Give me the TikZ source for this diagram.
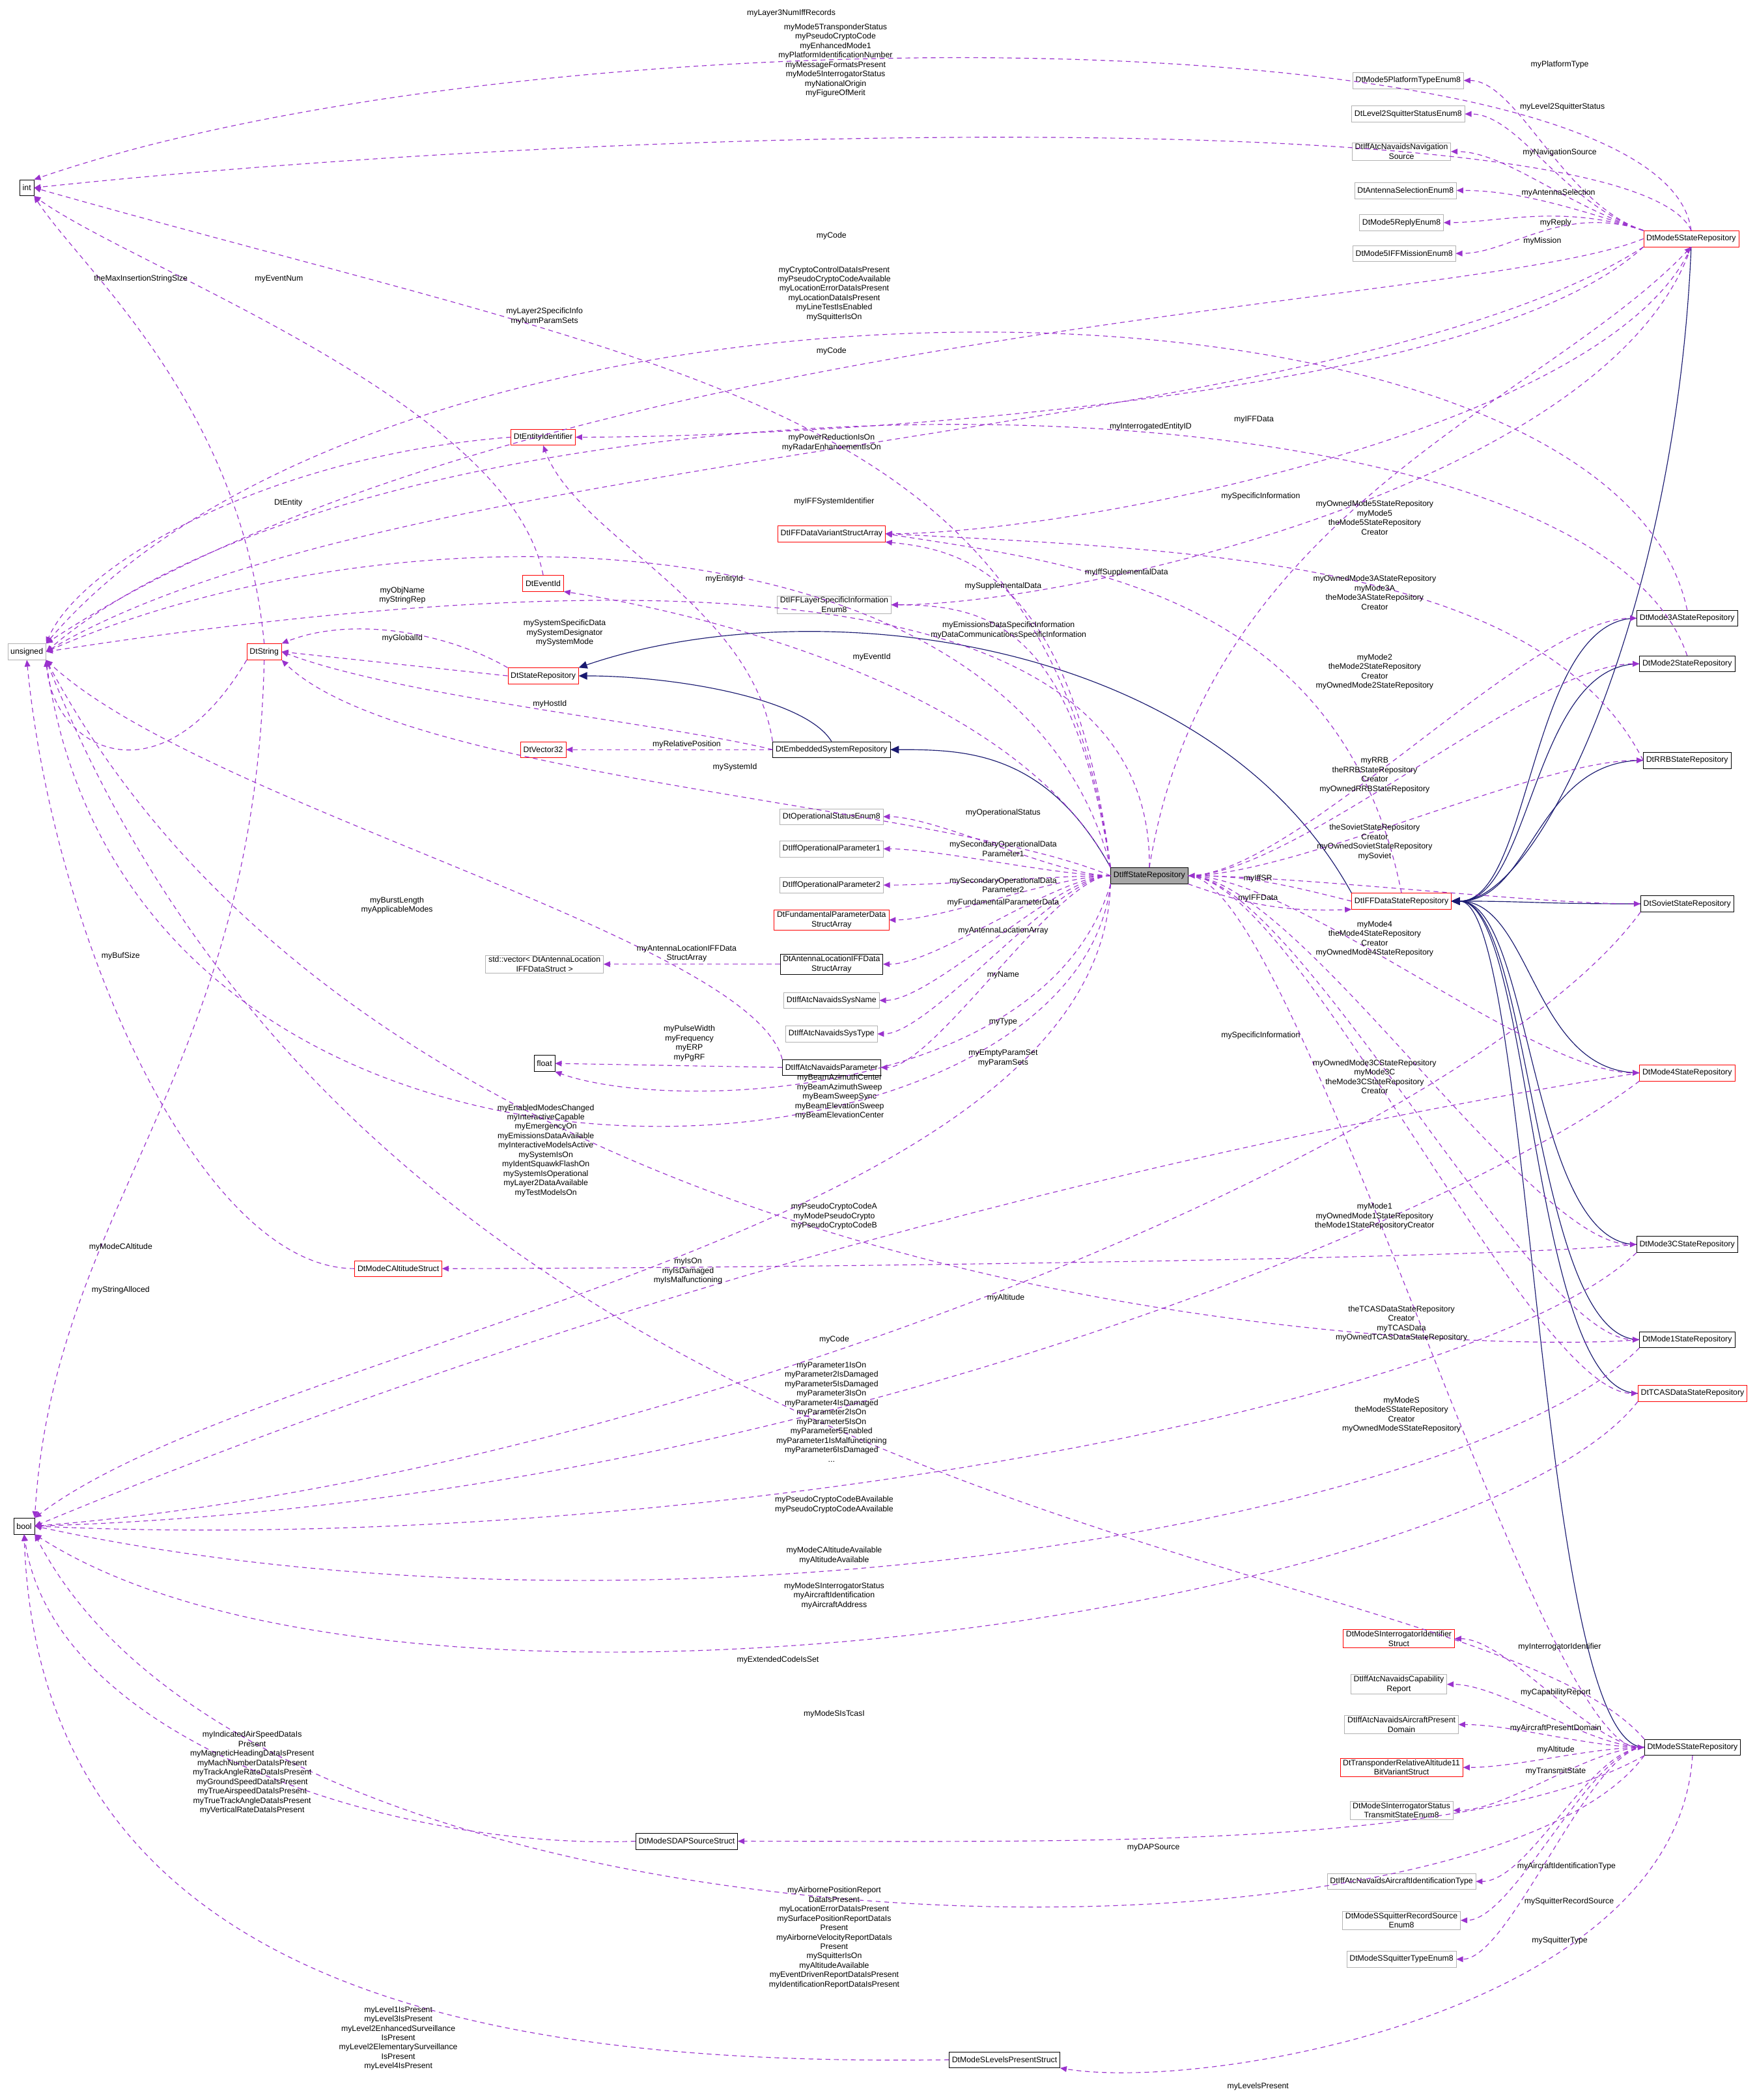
\documentclass[tikz,border=0pt]{standalone}
\usepackage{fontspec}
\setmainfont{Liberation Sans}
\usetikzlibrary{arrows.meta}
\definecolor{usecol}{HTML}{9A32CD}
\definecolor{inhcol}{HTML}{191970}
\tikzset{
  cls/.style={draw=black, rectangle, inner xsep=3pt, inner ysep=1.5pt, minimum height=0.6cm, align=center, font=\fontsize{8.5}{10}\selectfont},
  redcls/.style={cls, draw=red},
  graycls/.style={cls, draw=black!30},
  selcls/.style={cls, fill=black!35},
  lbl/.style={align=center, inner sep=0pt, font=\fontsize{8.5}{10}\selectfont},
  use/.style={draw=usecol, dashed, dash pattern=on 5pt off 4pt, thick, -{Triangle[length=7pt,width=6pt]}},
  inh/.style={draw=inhcol, thick, -{Triangle[length=9pt,width=8pt]}}
}
\begin{document}
\begin{tikzpicture}[x=0.05cm, y=-0.05cm]
\useasboundingbox (0,0) rectangle (1310,1566);
% left column
\node[cls] (int) at (20,140) {int};
\node[graycls] (unsigned) at (20,486) {unsigned};
\node[cls] (bool) at (18,1138) {bool};
% main class
\node[selcls] (isr) at (857,653) {DtIffStateRepository};
% mode 5 neighbourhood
\node[redcls] (m5) at (1261,178) {DtMode5StateRepository};
\node[graycls] (m5pt) at (1050,60) {DtMode5PlatformTypeEnum8};
\node[graycls] (l2sq) at (1050,85) {DtLevel2SquitterStatusEnum8};
\node[graycls] (navsrc) at (1045,113) {DtIffAtcNavaidsNavigation\\Source};
\node[graycls] (antsel) at (1048,142) {DtAntennaSelectionEnum8};
\node[graycls] (m5rep) at (1045,166) {DtMode5ReplyEnum8};
\node[graycls] (m5mis) at (1047,189) {DtMode5IFFMissionEnum8};
% middle column
\node[redcls] (entid) at (405,326) {DtEntityIdentifier};
\node[redcls] (ifvar) at (620,398) {DtIFFDataVariantStructArray};
\node[graycls] (layinf) at (622,451) {DtIFFLayerSpecificInformation\\Enum8};
\node[redcls] (evid) at (405,435) {DtEventId};
\node[redcls] (dtstr) at (197,486) {DtString};
\node[redcls] (strep) at (405,504) {DtStateRepository};
\node[redcls] (vec) at (405,559) {DtVector32};
\node[cls] (emb) at (620,559) {DtEmbeddedSystemRepository};
\node[graycls] (opstat) at (620,609) {DtOperationalStatusEnum8};
\node[graycls] (op1) at (620,633) {DtIffOperationalParameter1};
\node[graycls] (op2) at (620,660) {DtIffOperationalParameter2};
\node[redcls] (fund) at (620,686) {DtFundamentalParameterData\\StructArray};
\node[graycls] (stdvec) at (406,719) {std::vector\textless{} DtAntennaLocation\\IFFDataStruct \textgreater};
\node[cls] (antloc) at (620,719) {DtAntennaLocationIFFData\\StructArray};
\node[graycls] (sysname) at (620,746) {DtIffAtcNavaidsSysName};
\node[graycls] (systype) at (620,771) {DtIffAtcNavaidsSysType};
\node[cls] (flt) at (406,793) {float};
\node[cls] (navpar) at (620,796) {DtIffAtcNavaidsParameter};
\node[redcls] (modec) at (297,946) {DtModeCAltitudeStruct};
% right column
\node[cls] (m3a) at (1258,461) {DtMode3AStateRepository};
\node[cls] (m2) at (1258,495) {DtMode2StateRepository};
\node[cls] (rrb) at (1258,567) {DtRRBStateRepository};
\node[cls] (sov) at (1258,674) {DtSovietStateRepository};
\node[redcls] (iffds) at (1045,672) {DtIFFDataStateRepository};
\node[redcls] (m4) at (1258,800) {DtMode4StateRepository};
\node[cls] (m3c) at (1258,928) {DtMode3CStateRepository};
\node[cls] (m1) at (1258,999) {DtMode1StateRepository};
\node[redcls] (tcas) at (1262,1039) {DtTCASDataStateRepository};
\node[cls] (ms) at (1262,1303) {DtModeSStateRepository};
% mode S neighbourhood
\node[redcls] (msint) at (1043,1222) {DtModeSInterrogatorIdentifier\\Struct};
\node[graycls] (capr) at (1043,1256) {DtIffAtcNavaidsCapability\\Report};
\node[graycls] (acpd) at (1045,1286) {DtIffAtcNavaidsAircraftPresent\\Domain};
\node[redcls] (tra) at (1045,1318) {DtTransponderRelativeAltitude11\\BitVariantStruct};
\node[graycls] (msts) at (1045,1350) {DtModeSInterrogatorStatus\\TransmitStateEnum8};
\node[cls] (dap) at (512,1373) {DtModeSDAPSourceStruct};
\node[graycls] (acid) at (1045,1403) {DtIffAtcNavaidsAircraftIdentificationType};
\node[graycls] (sqrs) at (1045,1432) {DtModeSSquitterRecordSource\\Enum8};
\node[graycls] (sqty) at (1045,1461) {DtModeSSquitterTypeEnum8};
\node[cls] (lvl) at (749,1536) {DtModeSLevelsPresentStruct};

% inheritance
\draw[inh] (emb.north) .. controls (600,520) and (500,504) .. (strep.east);
\draw[inh] (isr.north west) .. controls (780,560) and (720,559) .. (emb.east);
\draw[inh] (iffds.north west) .. controls (900,470) and (600,440) .. (strep.north east);
\draw[inh] (m5.south) .. controls (1250,450) and (1150,672) .. (iffds.east);
\foreach \s in {m3a,m2,rrb,sov,m4,m3c,m1,tcas,ms}
  \draw[inh] (\s.west) .. controls +(-80,0) and +(60,0) .. (iffds.east);

% members of DtMode5StateRepository
\foreach \t in {m5pt,l2sq,navsrc,antsel,m5rep,m5mis}
  \draw[use] (m5.north west) .. controls +(-60,-20) and +(40,0) .. (\t.east);
\draw[use] (m5.north) .. controls (1240,10) and (400,5) .. (int.north east);
\draw[use] (m5.north) .. controls (1220,80) and (500,90) .. (int.east);
\draw[use] (m5.west) .. controls (1100,230) and (400,240) .. (unsigned.north east);
\draw[use] (m5.south west) .. controls (1100,300) and (600,326) .. (entid.east);
\draw[use] (m5.south) .. controls (1200,320) and (800,398) .. (ifvar.east);
\draw[use] (m5.south) .. controls (1200,360) and (800,451) .. (layinf.east);
\draw[use] (m5.south west) .. controls (1000,330) and (300,330) .. (unsigned.east);
\draw[use] (isr.north) .. controls (900,380) and (1150,300) .. (m5.south);

% members of DtIffStateRepository
\draw[use] (isr.north west) .. controls (760,380) and (300,370) .. (unsigned.east);
\draw[use] (isr.north west) .. controls (800,430) and (720,410) .. (ifvar.south east);
\draw[use] (isr.north west) .. controls (800,470) and (740,451) .. (layinf.east);
\draw[use] (isr.north west) .. controls (750,500) and (480,450) .. (evid.south east);
\draw[use] (isr.west) .. controls (700,600) and (300,580) .. (dtstr.south east);
\draw[use] (isr.north) .. controls (860,420) and (460,420) .. (unsigned.east);
\draw[use] (isr.north west) .. controls (780,300) and (520,280) .. (int.east);
\foreach \t in {opstat,op1,op2,fund,antloc,sysname,systype,navpar}
  \draw[use] (isr.west) .. controls +(-40,0) and +(40,0) .. (\t.east);
\draw[use] (isr.south west) .. controls (780,820) and (500,830) .. (flt.south east);
\draw[use] (isr.south west) .. controls (800,900) and (100,950) .. (unsigned.south east);
\draw[use] (isr.south west) .. controls (820,920) and (200,1000) .. (bool.north east);
\foreach \t in {m3a,m2,rrb,sov,m4,m3c,m1,tcas,ms}
  \draw[use] (isr.east) .. controls +(80,0) and +(-80,0) .. (\t.west);
\draw[use] (iffds.west) .. controls (960,660) and (930,653) .. (isr.east);
\draw[use] (isr.south east) .. controls (930,675) and (960,680) .. (iffds.south west);
\draw[use] (iffds.north) .. controls (1000,440) and (800,420) .. (ifvar.east);

% members of the mode repositories
\draw[use] (m3a.north) .. controls (1200,180) and (300,170) .. (unsigned.north east);
\draw[use] (m2.north) .. controls (1180,260) and (300,260) .. (unsigned.east);
\draw[use] (rrb.west) .. controls (1150,420) and (900,410) .. (ifvar.east);
\draw[use] (m4.west) .. controls (1100,820) and (600,900) .. (bool.east);
\draw[use] (sov.south west) .. controls (1100,850) and (500,1100) .. (bool.east);
\draw[use] (m4.south west) .. controls (1100,900) and (600,1120) .. (bool.east);
\draw[use] (m3c.west) .. controls (1100,940) and (500,946) .. (modec.east);
\draw[use] (m3c.south west) .. controls (1100,1050) and (500,1160) .. (bool.east);
\draw[use] (m1.west) .. controls (1100,1010) and (300,990) .. (unsigned.south east);
\draw[use] (m1.south west) .. controls (1100,1130) and (500,1240) .. (bool.east);
\draw[use] (tcas.south west) .. controls (1100,1200) and (300,1320) .. (bool.south east);
\draw[use] (ms.north west) .. controls (1100,1150) and (300,1160) .. (unsigned.south east);
\foreach \t in {msint,capr,acpd,tra,msts,acid,sqrs,sqty}
  \draw[use] (ms.west) .. controls +(-40,0) and +(40,0) .. (\t.east);
\draw[use] (ms.south west) .. controls (1100,1380) and (800,1373) .. (dap.east);
\draw[use] (ms.south west) .. controls (1100,1480) and (200,1480) .. (bool.south east);
\draw[use] (ms.south) .. controls (1250,1500) and (900,1560) .. (lvl.south east);
\draw[use] (dap.west) .. controls (300,1380) and (40,1300) .. (bool.south);
\draw[use] (lvl.west) .. controls (400,1540) and (30,1500) .. (bool.south);

% members of the helper classes
\draw[use] (dtstr.north) .. controls (180,300) and (60,200) .. (int.south east);
\draw[use] (dtstr.south) .. controls (190,800) and (40,900) .. (bool.north east);
\draw[use] (dtstr.south west) .. controls (120,600) and (40,560) .. (unsigned.south east);
\draw[use] (evid.north) .. controls (380,300) and (100,200) .. (int.south east);
\draw[use] (entid.west) .. controls (200,340) and (60,420) .. (unsigned.north east);
\draw[use] (strep.north west) .. controls (330,470) and (260,460) .. (dtstr.north east);
\draw[use] (strep.west) -- (dtstr.east);
\draw[use] (emb.west) .. controls (500,540) and (300,520) .. (dtstr.east);
\draw[use] (emb.north west) .. controls (560,450) and (430,400) .. (entid.south);
\draw[use] (emb.west) -- (vec.east);
\draw[use] (antloc.west) -- (stdvec.east);
\draw[use] (navpar.west) -- (flt.east);
\draw[use] (navpar.north west) .. controls (560,700) and (150,600) .. (unsigned.south east);
\draw[use] (modec.west) .. controls (150,946) and (40,700) .. (unsigned.south);

% edge labels
\node[lbl] (lA) at (590,10) {myLayer3NumIffRecords};
\node[lbl] (lB) at (623,45) {myMode5TransponderStatus\\myPseudoCryptoCode\\myEnhancedMode1\\myPlatformIdentificationNumber\\myMessageFormatsPresent\\myMode5InterrogatorStatus\\myNationalOrigin\\myFigureOfMerit};
\node[lbl] (lC) at (1163,48) {myPlatformType};
\node[lbl] (lD) at (1165,80) {myLevel2SquitterStatus};
\node[lbl] (lE) at (1163,114) {myNavigationSource};
\node[lbl] (lF) at (1162,144) {myAntennaSelection};
\node[lbl] (lG) at (1160,166) {myReply};
\node[lbl] (lH) at (1150,180) {myMission};
\node[lbl] (lI) at (620,176) {myCode};
\node[lbl] (lJ) at (105,208) {theMaxInsertionStringSize};
\node[lbl] (lK) at (208,208) {myEventNum};
\node[lbl] (lL) at (622,219) {myCryptoControlDataIsPresent\\myPseudoCryptoCodeAvailable\\myLocationErrorDataIsPresent\\myLocationDataIsPresent\\myLineTestIsEnabled\\mySquitterIsOn};
\node[lbl] (lM) at (406,236) {myLayer2SpecificInfo\\myNumParamSets};
\node[lbl] (lN) at (620,262) {myCode};
\node[lbl] (lO) at (858,318) {myInterrogatedEntityID};
\node[lbl] (lP) at (935,313) {myIFFData};
\node[lbl] (lQ) at (620,330) {myPowerReductionIsOn\\myRadarEnhancementIsOn};
\node[lbl] (lR) at (940,370) {mySpecificInformation};
\node[lbl] (lS) at (215,375) {DtEntity};
\node[lbl] (lT) at (622,374) {myIFFSystemIdentifier};
\node[lbl] (lU) at (1025,386) {myOwnedMode5StateRepository\\myMode5\\theMode5StateRepository\\Creator};
\node[lbl] (lV) at (840,427) {myIffSupplementalData};
\node[lbl] (lW) at (540,432) {myEntityId};
\node[lbl] (lX) at (748,437) {mySupplementalData};
\node[lbl] (lY) at (1025,442) {myOwnedMode3AStateRepository\\myMode3A\\theMode3AStateRepository\\Creator};
\node[lbl] (lZ) at (300,444) {myObjName\\myStringRep};
\node[lbl] (la) at (752,470) {myEmissionsDataSpecificInformation\\myDataCommunicationsSpecificInformation};
\node[lbl] (lb) at (421,472) {mySystemSpecificData\\mySystemDesignator\\mySystemMode};
\node[lbl] (lc) at (300,476) {myGlobalId};
\node[lbl] (ld) at (650,490) {myEventId};
\node[lbl] (le) at (1025,501) {myMode2\\theMode2StateRepository\\Creator\\myOwnedMode2StateRepository};
\node[lbl] (lf) at (410,525) {myHostId};
\node[lbl] (lg) at (512,555) {myRelativePosition};
\node[lbl] (lh) at (548,572) {mySystemId};
\node[lbl] (li) at (1025,578) {myRRB\\theRRBStateRepository\\Creator\\myOwnedRRBStateRepository};
\node[lbl] (lj) at (748,606) {myOperationalStatus};
\node[lbl] (lk) at (1025,628) {theSovietStateRepository\\Creator\\myOwnedSovietStateRepository\\mySoviet};
\node[lbl] (ll) at (748,633) {mySecondaryOperationalData\\Parameter1};
\node[lbl] (lm) at (938,655) {myIffSR};
\node[lbl] (ln) at (748,660) {mySecondaryOperationalData\\Parameter2};
\node[lbl] (lo) at (938,670) {myIFFData};
\node[lbl] (lp) at (748,673) {myFundamentalParameterData};
\node[lbl] (lq) at (296,675) {myBurstLength\\myApplicableModes};
\node[lbl] (lr) at (748,694) {myAntennaLocationArray};
\node[lbl] (ls) at (1025,700) {myMode4\\theMode4StateRepository\\Creator\\myOwnedMode4StateRepository};
\node[lbl] (lt) at (512,711) {myAntennaLocationIFFData\\StructArray};
\node[lbl] (lu) at (90,713) {myBufSize};
\node[lbl] (lv) at (748,727) {myName};
\node[lbl] (lw) at (748,762) {myType};
\node[lbl] (lx) at (514,778) {myPulseWidth\\myFrequency\\myERP\\myPgRF};
\node[lbl] (ly) at (748,789) {myEmptyParamSet\\myParamSets};
\node[lbl] (lz) at (940,772) {mySpecificInformation};
\node[lbl] (m0) at (1025,803) {myOwnedMode3CStateRepository\\myMode3C\\theMode3CStateRepository\\Creator};
\node[lbl] (m01) at (626,818) {myBeamAzimuthCenter\\myBeamAzimuthSweep\\myBeamSweepSync\\myBeamElevationSweep\\myBeamElevationCenter};
\node[lbl] (m02) at (407,858) {myEnabledModesChanged\\myInteractiveCapable\\myEmergencyOn\\myEmissionsDataAvailable\\myInteractiveModelsActive\\mySystemIsOn\\myIdentSquawkFlashOn\\mySystemIsOperational\\myLayer2DataAvailable\\myTestModelsOn};
\node[lbl] (m03) at (622,907) {myPseudoCryptoCodeA\\myModePseudoCrypto\\myPseudoCryptoCodeB};
\node[lbl] (m04) at (1025,907) {myMode1\\myOwnedMode1StateRepository\\theMode1StateRepositoryCreator};
\node[lbl] (m05) at (90,930) {myModeCAltitude};
\node[lbl] (m06) at (513,948) {myIsOn\\myIsDamaged\\myIsMalfunctioning};
\node[lbl] (m07) at (90,962) {myStringAlloced};
\node[lbl] (m08) at (750,968) {myAltitude};
\node[lbl] (m09) at (1045,987) {theTCASDataStateRepository\\Creator\\myTCASData\\myOwnedTCASDataStateRepository};
\node[lbl] (m10) at (622,999) {myCode};
\node[lbl] (m11) at (1045,1055) {myModeS\\theModeSStateRepository\\Creator\\myOwnedModeSStateRepository};
\node[lbl] (m12) at (620,1053) {myParameter1IsOn\\myParameter2IsDamaged\\myParameter5IsDamaged\\myParameter3IsOn\\myParameter4IsDamaged\\myParameter2IsOn\\myParameter5IsOn\\myParameter5Enabled\\myParameter1IsMalfunctioning\\myParameter6IsDamaged\\...};
\node[lbl] (m13) at (622,1122) {myPseudoCryptoCodeBAvailable\\myPseudoCryptoCodeAAvailable};
\node[lbl] (m14) at (622,1160) {myModeCAltitudeAvailable\\myAltitudeAvailable};
\node[lbl] (m15) at (622,1190) {myModeSInterrogatorStatus\\myAircraftIdentification\\myAircraftAddress};
\node[lbl] (m16) at (1163,1228) {myInterrogatorIdentifier};
\node[lbl] (m17) at (580,1238) {myExtendedCodeIsSet};
\node[lbl] (m18) at (1160,1262) {myCapabilityReport};
\node[lbl] (m19) at (622,1278) {myModeSIsTcasI};
\node[lbl] (m20) at (1160,1289) {myAircraftPresentDomain};
\node[lbl] (m21) at (1160,1305) {myAltitude};
\node[lbl] (m22) at (1160,1321) {myTransmitState};
\node[lbl] (m23) at (188,1322) {myIndicatedAirSpeedDataIs\\Present\\myMagneticHeadingDataIsPresent\\myMachNumberDataIsPresent\\myTrackAngleRateDataIsPresent\\myGroundSpeedDataIsPresent\\myTrueAirspeedDataIsPresent\\myTrueTrackAngleDataIsPresent\\myVerticalRateDataIsPresent};
\node[lbl] (m24) at (860,1378) {myDAPSource};
\node[lbl] (m25) at (1168,1392) {myAircraftIdentificationType};
\node[lbl] (m26) at (1170,1418) {mySquitterRecordSource};
\node[lbl] (m27) at (622,1445) {myAirbornePositionReport\\DataIsPresent\\myLocationErrorDataIsPresent\\mySurfacePositionReportDataIs\\Present\\myAirborneVelocityReportDataIs\\Present\\mySquitterIsOn\\myAltitudeAvailable\\myEventDrivenReportDataIsPresent\\myIdentificationReportDataIsPresent};
\node[lbl] (m28) at (1163,1447) {mySquitterType};
\node[lbl] (m29) at (297,1520) {myLevel1IsPresent\\myLevel3IsPresent\\myLevel2EnhancedSurveillance\\IsPresent\\myLevel2ElementarySurveillance\\IsPresent\\myLevel4IsPresent};
\node[lbl] (m30) at (938,1556) {myLevelsPresent};
\end{tikzpicture}
\end{document}
